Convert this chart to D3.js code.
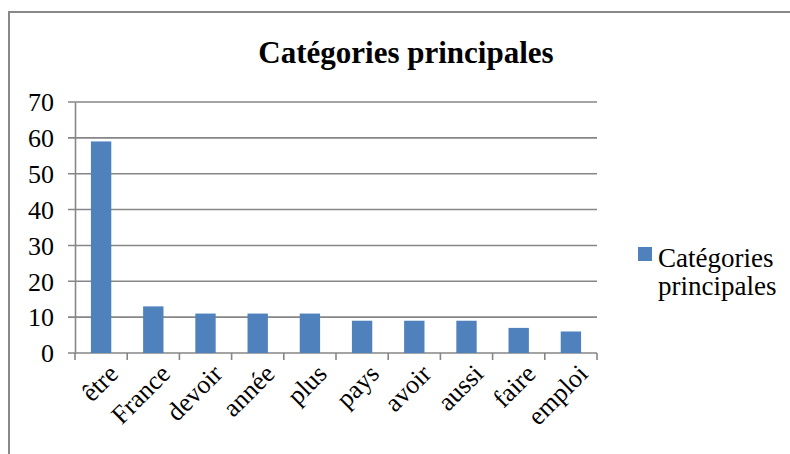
<!DOCTYPE html>
<html>
<head>
<meta charset="utf-8">
<script src="https://cdn.jsdelivr.net/npm/d3@7"></script>
<style>
  svg#chart text { font-family: "Liberation Serif", "Times New Roman", Tinos, serif !important; }
</style>
</head>
<body style="margin:0;background:#fff">
<svg id="chart" width="790" height="454" font-family="Liberation Serif"></svg>
<script>
// data
const categories = ["être", "France", "devoir", "année", "plus", "pays", "avoir", "aussi", "faire", "emploi"]
const counts = [59, 13, 11, 11, 11, 9, 9, 9, 7, 6]
const yTicks = [0, 10, 20, 30, 40, 50, 60, 70]
const seriesName = ["Catégories", "principales"]

const fontName = "Liberation Serif"
const gridColor = "#868686"
const barColor = "#4f81bd"

const svg = d3.select("#chart")
const plotLeft = 75, plotRight = 597, plotTop = 102, plotBottom = 353

// outer chart frame
svg.append("path")
  .attr("d", "M9,454 L9,12 L790,12")
  .attr("fill", "none")
  .attr("stroke", "#888")
  .attr("stroke-width", 2)

svg.append("text")
  .attr("x", 406).attr("y", 63)
  .attr("text-anchor", "middle")
  .attr("font-family", fontName)
  .attr("font-size", 31)
  .attr("font-weight", "bold")
  .text("Catégories principales")

const x = d3.scaleBand().domain(categories).range([plotLeft, plotRight]).paddingInner(0.61).paddingOuter(0.305)
const y = d3.scaleLinear().domain([0, 70]).range([plotBottom, plotTop])

// gridlines
svg.append("g").selectAll("line")
  .data(yTicks)
  .enter().append("line")
  .attr("x1", plotLeft - 7).attr("x2", plotRight)
  .attr("y1", d => y(d)).attr("y2", d => y(d))
  .attr("stroke", gridColor)
  .attr("stroke-width", 1.6)

// y axis
const yAxis = svg.append("g")
  .attr("transform", `translate(${plotLeft},0)`)
  .call(d3.axisLeft(y).tickValues(yTicks).tickSize(0).tickPadding(21))
yAxis.attr("font-family", fontName).attr("font-size", 26)
yAxis.select(".domain").attr("stroke", gridColor).attr("stroke-width", 1.6)
yAxis.selectAll("text")
  .attr("font-family", fontName)
  .attr("fill", "#000")
  .attr("dy", "0.34em")

// bars
svg.append("g").selectAll("rect")
  .data(counts)
  .enter().append("rect")
  .attr("x", (d, i) => x(categories[i]))
  .attr("y", d => y(d))
  .attr("width", x.bandwidth())
  .attr("height", d => y(0) - y(d))
  .attr("fill", barColor)

// x axis ticks between categories
const step = x.step()
const tickXs = d3.range(categories.length + 1).map(i => plotLeft + i * step)
svg.append("g").selectAll("line")
  .data(tickXs)
  .enter().append("line")
  .attr("x1", d => d).attr("x2", d => d)
  .attr("y1", plotBottom).attr("y2", plotBottom + 7)
  .attr("stroke", gridColor)
  .attr("stroke-width", 1.6)

// rotated category labels
svg.append("g").selectAll("text")
  .data(categories)
  .enter().append("text")
  .attr("transform", d => `translate(${x(d) + x.bandwidth() / 2 + 12},${plotBottom + 16}) rotate(-45)`)
  .attr("text-anchor", "end")
  .attr("dy", "0.35em")
  .attr("font-family", fontName)
  .attr("font-size", 26)
  .text(d => d)

// legend
const legend = svg.append("g").attr("transform", "translate(638,247)")
legend.append("rect")
  .attr("width", 14).attr("height", 14)
  .attr("fill", barColor)
legend.selectAll("text")
  .data(seriesName)
  .enter().append("text")
  .attr("x", 20)
  .attr("y", (d, i) => 20 + i * 28)
  .attr("font-family", fontName)
  .attr("font-size", 27)
  .text(d => d)
</script>
</body>
</html>
